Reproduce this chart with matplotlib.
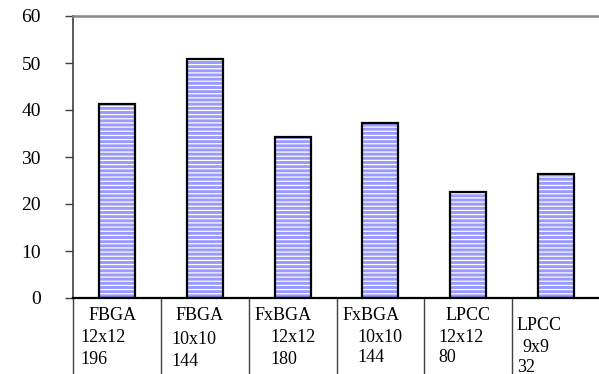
import matplotlib.pyplot as plt

plt.rcParams['font.family'] = ['Liberation Serif', 'DejaVu Serif']
plt.rcParams['hatch.linewidth'] = 0.9

# package / body size / pin count
packages = ['FBGA', 'FBGA', 'FxBGA', 'FxBGA', 'LPCC', 'LPCC']
body_sizes = ['12x12', '10x10', '12x12', '10x10', '12x12', '9x9']
pin_counts = ['196', '144', '180', '144', '80', '32']
values = [41.3, 50.9, 34.3, 37.2, 22.6, 26.4]
y_ticks = [0, 10, 20, 30, 40, 50, 60]

# pixel offsets of the three label lines inside each cell (x from cell edge, y below axis)
label_dx = [(16, 7, 7), (15, 11, 11), (6, 22, 22), (6, 21, 21), (21, 14, 14), (4, 10, 5)]
label_dy = [(-17, -39, -61), (-17, -42, -64), (-17, -39, -61),
            (-18, -39, -60), (-17, -39, -60), (-27, -49, -70)]

fig = plt.figure(figsize=(5.99, 3.74), dpi=100)
ax = fig.add_axes([73 / 599, 1 - 298 / 374, 527 / 599, 282 / 374])

x = list(range(len(values)))
# striped fill, then a plain black outline on top
ax.bar(x, values, width=0.41, color='#9999ff', edgecolor='white', hatch='----', linewidth=0)
ax.bar(x, values, width=0.41, fill=False, edgecolor='black', linewidth=1.6)

ax.set_xlim(-0.5, len(values) - 0.5)
ax.set_ylim(0, 60)
ax.set_yticks(y_ticks)
ax.tick_params(axis='y', direction='out', length=6, width=1, color='#404040',
               pad=17, labelsize=14)
ax.set_xticks([])

ax.spines['right'].set_visible(False)
ax.spines['top'].set_color('#888888')
ax.spines['top'].set_linewidth(1.8)
ax.spines['left'].set_color('#404040')
ax.spines['left'].set_linewidth(1.2)
ax.spines['bottom'].set_color('black')
ax.spines['bottom'].set_linewidth(1.6)

# category cells under the axis
trans = ax.get_xaxis_transform()
for i in range(len(values) + 1):
    ax.plot([i - 0.5, i - 0.5], [0, -0.3], transform=trans, color='#404040',
            linewidth=1.0, clip_on=False)

for i in range(len(values)):
    lines = [packages[i], body_sizes[i], pin_counts[i]]
    for text, dx, dy in zip(lines, label_dx[i], label_dy[i]):
        ax.annotate(text, xy=(i - 0.5, 0), xycoords=trans, xytext=(dx, dy),
                    textcoords='offset pixels', ha='left', va='center',
                    fontsize=13, annotation_clip=False)

fig.savefig('out.png', dpi=100)
